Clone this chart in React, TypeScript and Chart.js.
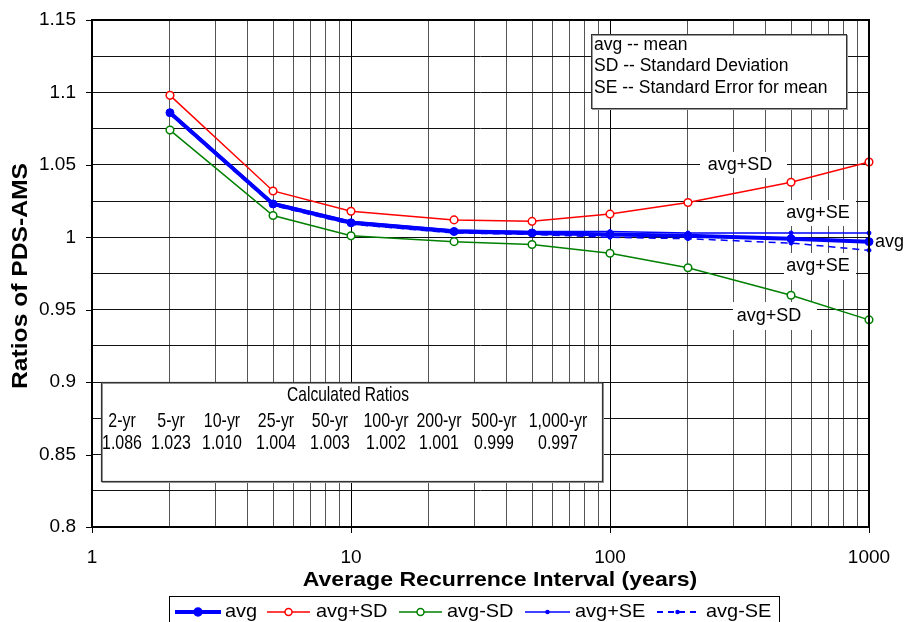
import React, { useEffect, useRef } from 'react';
import { Chart, registerables } from 'chart.js';

Chart.register(...registerables);

// Return periods (years) and the PDS/AMS ratio statistics at each one
const periods = [2, 5, 10, 25, 50, 100, 200, 500, 1000];
const avg = [1.086, 1.023, 1.010, 1.004, 1.003, 1.002, 1.001, 0.999, 0.997];
const avgPlusSD = [1.098, 1.032, 1.018, 1.012, 1.011, 1.016, 1.024, 1.038, 1.052];
const avgMinusSD = [1.074, 1.015, 1.001, 0.997, 0.995, 0.989, 0.979, 0.960, 0.943];
const avgPlusSE = [1.087, 1.024, 1.011, 1.005, 1.004, 1.004, 1.003, 1.003, 1.003];
const avgMinusSE = [1.085, 1.022, 1.009, 1.003, 1.002, 1.000, 0.999, 0.996, 0.991];

const seriesNames = ['avg', 'avg+SD', 'avg-SD', 'avg+SE', 'avg-SE'];
const xDecades = [1, 10, 100, 1000];
const yRange = [0.8, 1.15];
const yGridStep = 0.025;
const yLabelStep = 0.05;

const notes = ['avg -- mean', 'SD -- Standard Deviation', 'SE -- Standard Error for mean'];
const tableTitle = 'Calculated Ratios';
const xTitle = 'Average Recurrence Interval (years)';
const yTitle = 'Ratios of PDS-AMS';

const FONT = '"Liberation Sans", Arial, Helvetica, sans-serif';
const BLUE = '#0000ff';
const RED = '#ff0000';
const GREEN = '#008000';

type TextOpts = { size: number; bold?: boolean; align?: CanvasTextAlign; sx?: number; color?: string };

function drawText(ctx: CanvasRenderingContext2D, s: string, x: number, y: number, o: TextOpts) {
  ctx.save();
  ctx.font = `${o.bold ? 'bold ' : ''}${o.size}px ${FONT}`;
  ctx.fillStyle = o.color || '#000';
  ctx.textBaseline = 'middle';
  ctx.textAlign = o.align || 'left';
  ctx.translate(x, y);
  ctx.scale(o.sx || 1, 1);
  ctx.fillText(s, 0, 0);
  ctx.restore();
}

const isDecade = (v: number) => Math.abs(Math.log10(v) - Math.round(Math.log10(v))) < 1e-9;
const pts = (ys: number[]) => periods.map((p, i) => ({ x: p, y: ys[i] }));

// Labels placed beside the curve ends, on a white patch over the grid
const curveLabels = [
  { text: 'avg+SD', box: [700, 152, 87, 26], cx: 740, cy: 165 },
  { text: 'avg+SE', box: [784, 200, 72, 26], cx: 818, cy: 213 },
  { text: 'avg+SE', box: [784, 253, 72, 27], cx: 818, cy: 266 },
  { text: 'avg+SD', box: [733, 302, 84, 28], cx: 769, cy: 316 },
];

const tableColumns = [122, 171, 222, 276, 330, 386, 439, 494, 558];

const overlay = {
  id: 'overlay',
  beforeDatasetsDraw(chart: Chart) {
    const ctx = chart.ctx;
    curveLabels.forEach((l) => {
      ctx.save();
      ctx.fillStyle = '#fff';
      ctx.fillRect(l.box[0], l.box[1], l.box[2], l.box[3]);
      ctx.restore();
      drawText(ctx, l.text, l.cx, l.cy, { size: 18, align: 'center' });
    });
  },
  afterDraw(chart: Chart) {
    const ctx = chart.ctx;
    const { left, right, top, bottom } = chart.chartArea;
    const xs = chart.scales.x;
    const ys = chart.scales.y;

    // plot frame
    ctx.save();
    ctx.strokeStyle = '#000';
    ctx.lineWidth = 2;
    ctx.strokeRect(left, top, right - left, bottom - top);

    // outer tick marks at labelled values
    ctx.lineWidth = 1;
    for (let v = yRange[0]; v <= yRange[1] + 1e-9; v += yLabelStep) {
      const y = Math.round(ys.getPixelForValue(v)) + 0.5;
      ctx.beginPath();
      ctx.moveTo(left - 6, y);
      ctx.lineTo(left, y);
      ctx.stroke();
    }
    xDecades.forEach((d) => {
      const x = Math.round(xs.getPixelForValue(d)) + 0.5;
      ctx.beginPath();
      ctx.moveTo(x, bottom);
      ctx.lineTo(x, bottom + 6);
      ctx.stroke();
    });
    ctx.restore();

    // axis titles
    drawText(ctx, xTitle, 500, 580, { size: 21, bold: true, align: 'center', sx: 1.1 });
    ctx.save();
    ctx.translate(21, 276);
    ctx.rotate(-Math.PI / 2);
    drawText(ctx, yTitle, 0, 0, { size: 22, bold: true, align: 'center', sx: 1.12 });
    ctx.restore();

    // label at the end of the mean curve
    drawText(ctx, seriesNames[0], right + 6, ys.getPixelForValue(avg[avg.length - 1]), { size: 18 });

    // definitions box
    ctx.save();
    ctx.fillStyle = '#fff';
    ctx.fillRect(591, 34, 256, 75);
    ctx.strokeStyle = '#999';
    ctx.lineWidth = 1;
    ctx.strokeRect(592.5, 35.5, 255, 74);
    ctx.strokeStyle = '#333';
    ctx.strokeRect(591.5, 34.5, 255, 74);
    ctx.restore();
    notes.forEach((n, i) => drawText(ctx, n, 594, 45 + i * 21.5, { size: 17.5 }));

    // calculated ratios table
    ctx.save();
    ctx.fillStyle = '#fff';
    ctx.fillRect(101, 382, 502, 100);
    ctx.strokeStyle = '#999';
    ctx.lineWidth = 1;
    ctx.strokeRect(102.5, 383.5, 501, 99);
    ctx.strokeStyle = '#333';
    ctx.lineWidth = 1.2;
    ctx.strokeRect(101.5, 382.5, 501, 99);
    ctx.restore();
    drawText(ctx, tableTitle, 348, 395, { size: 21, align: 'center', sx: 0.74 });
    periods.forEach((p, i) => {
      drawText(ctx, `${p.toLocaleString('en-US')}-yr`, tableColumns[i], 421, { size: 21, align: 'center', sx: 0.76 });
      drawText(ctx, avg[i].toFixed(3), tableColumns[i], 443, { size: 21, align: 'center', sx: 0.76 });
    });

    // series legend
    ctx.save();
    ctx.fillStyle = '#fff';
    ctx.fillRect(169, 596, 610, 30);
    ctx.strokeStyle = '#000';
    ctx.lineWidth = 1;
    ctx.strokeRect(169.5, 596.5, 610, 30);
    ctx.restore();
    const ly = 612;
    const items = [
      { x0: 175, x1: 221, color: BLUE, w: 4, r: 4, fill: BLUE, dash: [] as number[], tx: 225 },
      { x0: 267, x1: 310, color: RED, w: 1.5, r: 3.5, fill: '#fff', dash: [], tx: 316 },
      { x0: 399, x1: 442, color: GREEN, w: 1.5, r: 3.5, fill: '#fff', dash: [], tx: 447 },
      { x0: 525, x1: 570, color: BLUE, w: 1.5, r: 1.5, fill: BLUE, dash: [], tx: 575 },
      { x0: 657, x1: 698, color: BLUE, w: 2, r: 1.5, fill: BLUE, dash: [6, 5], tx: 706 },
    ];
    items.forEach((it, i) => {
      ctx.save();
      ctx.strokeStyle = it.color;
      ctx.lineWidth = it.w;
      ctx.setLineDash(it.dash);
      ctx.beginPath();
      ctx.moveTo(it.x0, ly);
      ctx.lineTo(it.x1, ly);
      ctx.stroke();
      ctx.setLineDash([]);
      ctx.lineWidth = 1.5;
      ctx.fillStyle = it.fill;
      ctx.beginPath();
      ctx.arc((it.x0 + it.x1) / 2, ly, it.r, 0, Math.PI * 2);
      ctx.fill();
      ctx.stroke();
      ctx.restore();
      drawText(ctx, seriesNames[i], it.tx, ly, { size: 19, sx: 1.05 });
    });
  },
};

export default function App() {
  const ref = useRef<HTMLCanvasElement | null>(null);

  useEffect(() => {
    if (!ref.current) return;
    const chart = new Chart(ref.current, {
      type: 'line',
      data: {
        datasets: [
          {
            label: seriesNames[0], data: pts(avg), borderColor: BLUE, backgroundColor: BLUE,
            borderWidth: 4, pointRadius: 4, pointBackgroundColor: BLUE, pointBorderColor: BLUE,
            pointBorderWidth: 1, clip: false,
          },
          {
            label: seriesNames[1], data: pts(avgPlusSD), borderColor: RED, backgroundColor: RED,
            borderWidth: 1.5, pointRadius: 3.8, pointBackgroundColor: '#fff', pointBorderColor: RED,
            pointBorderWidth: 1.5, clip: false,
          },
          {
            label: seriesNames[2], data: pts(avgMinusSD), borderColor: GREEN, backgroundColor: GREEN,
            borderWidth: 1.5, pointRadius: 3.8, pointBackgroundColor: '#fff', pointBorderColor: GREEN,
            pointBorderWidth: 1.5, clip: false,
          },
          {
            label: seriesNames[3], data: pts(avgPlusSE), borderColor: BLUE, backgroundColor: BLUE,
            borderWidth: 1.5, pointRadius: 2, pointBackgroundColor: BLUE, pointBorderColor: BLUE,
            pointBorderWidth: 1, clip: false,
          },
          {
            label: seriesNames[4], data: pts(avgMinusSE), borderColor: BLUE, backgroundColor: BLUE,
            borderWidth: 1.5, borderDash: [7, 5], pointRadius: 2, pointBackgroundColor: BLUE,
            pointBorderColor: BLUE, pointBorderWidth: 1, clip: false,
          },
        ],
      },
      options: {
        animation: false,
        responsive: false,
        devicePixelRatio: 1,
        layout: { padding: { top: 20, right: 35, left: 0, bottom: 0 } },
        plugins: { legend: { display: false }, tooltip: { enabled: false } },
        elements: { line: { tension: 0 } },
        scales: {
          x: {
            type: 'logarithmic',
            min: 1,
            max: 1000,
            afterFit: (s: any) => {
              s.height = 95;
              s.paddingLeft = 0;
              s.paddingRight = 0;
            },
            afterBuildTicks: (s: any) => {
              const t: { value: number }[] = [];
              for (let e = 0; e < 3; e++) {
                for (let m = 1; m < 10; m++) t.push({ value: m * Math.pow(10, e) });
              }
              t.push({ value: 1000 });
              s.ticks = t;
            },
            ticks: {
              autoSkip: false,
              maxRotation: 0,
              padding: 19,
              color: '#000',
              font: { family: FONT, size: 19 },
              callback: (v: any) => (isDecade(Number(v)) ? String(Math.round(Number(v))) : ''),
            },
            grid: {
              drawTicks: false,
              lineWidth: 1,
              color: (c: any) => (c.tick && isDecade(c.tick.value) ? '#000' : '#555'),
            },
            border: { display: false },
          },
          y: {
            min: yRange[0],
            max: yRange[1],
            afterFit: (s: any) => {
              s.width = 92;
              s.paddingTop = 0;
              s.paddingBottom = 0;
            },
            afterBuildTicks: (s: any) => {
              const t: { value: number }[] = [];
              const n = Math.round((yRange[1] - yRange[0]) / yGridStep);
              for (let i = 0; i <= n; i++) t.push({ value: +(yRange[0] + i * yGridStep).toFixed(3) });
              s.ticks = t;
            },
            ticks: {
              autoSkip: false,
              padding: 16,
              color: '#000',
              font: { family: FONT, size: 19 },
              callback: (v: any) => {
                const k = Number(v) / yLabelStep;
                return Math.abs(k - Math.round(k)) < 1e-6 ? String(+Number(v).toFixed(3)) : '';
              },
            },
            grid: { drawTicks: false, lineWidth: 1, color: '#111' },
            border: { display: false },
          },
        },
      },
      plugins: [overlay],
    });
    return () => chart.destroy();
  }, []);

  return (
    <div style={{ position: 'absolute', left: 0, top: 0, width: 904, height: 622, background: '#fff' }}>
      <canvas ref={ref} width={904} height={622} style={{ display: 'block' }} />
    </div>
  );
}
